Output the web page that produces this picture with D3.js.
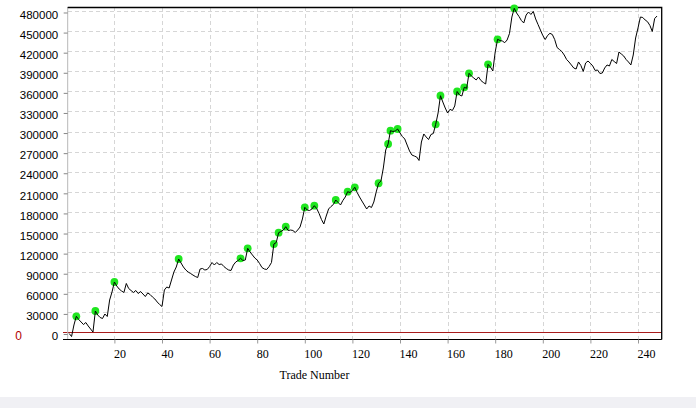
<!DOCTYPE html>
<html><head><meta charset="utf-8">
<script src="https://cdn.jsdelivr.net/npm/d3@7"></script>
<style>body{margin:0;background:#fff;overflow:hidden} svg{display:block}</style>
</head><body>
<svg id="c" width="696" height="408"></svg>
<script>
// Equity after each trade (trade 1 .. 248)
const equity = [
 -1500,-6000,11200,24200,19400,15700,11900,14900,9700,5200,
 700,32100,26100,22400,20900,27600,23900,48500,60500,75400,
 69400,64900,62000,59700,73200,65700,62700,59700,62700,58200,
 61200,57500,53700,59000,56700,53000,50000,45500,41800,38800,
 63500,67900,66400,78400,90300,97800,109700,103800,97800,93300,
 90300,88100,85800,83600,82100,94800,95600,93300,94100,98500,
 104500,100800,104500,101500,102300,98500,95600,93300,92600,100800,
 105300,107500,110800,107500,108200,125700,120200,115700,111200,108200,
 103000,97000,94800,94100,98500,104500,132100,134400,149000,150800,
 153000,158000,152300,153000,152300,149300,153000,157500,169500,186900,
 182900,182100,184400,189300,185100,177700,168700,162000,173900,184400,
 188100,191100,197800,194100,190400,197100,202300,210200,209000,212000,
 216800,209000,202300,196300,190400,184400,188900,186600,194800,209800,
 222800,226200,245600,272500,281400,301300,300100,300800,303800,297900,
 292600,288900,279900,271000,265000,263500,262000,256800,284400,296400,
 291900,288100,295600,297100,310800,327700,353500,344100,335200,327700,
 333200,331400,338200,359800,354600,353100,366100,364600,387000,383000,
 380000,377000,381500,376200,373300,371000,400400,396400,390400,418800,
 437700,436000,435200,432700,436700,446400,471000,484000,477000,471800,
 465800,462100,474000,478500,474800,479300,468100,459800,451600,443400,
 437400,443400,446700,444900,437400,425500,422500,419500,414300,407600,
 403900,399400,394900,393400,403900,398600,389700,402400,405300,401900,
 397900,391200,391900,386700,387400,394900,399400,397900,407600,404600,
 401600,418800,415800,412800,407600,403900,399400,414300,439700,454600,
 471000,470300,466600,464000,458400,449400,468800,472500
];
// Trades marked as new equity highs (green dots)
const newHighTrades = [4,12,20,47,73,76,87,89,92,100,104,113,118,121,131,135,136,139,155,157,164,167,169,177,181,188];
const xTickValues = [20,40,60,80,100,120,140,160,180,200,220,240];
const yTickValues = [0,30000,60000,90000,120000,150000,180000,210000,240000,270000,300000,330000,360000,390000,420000,450000,480000];
const xAxisTitle = "Trade Number";
const zeroMarker = "0";

const svg = d3.select("#c");
const L = 67.7, R = 661.7, T = 7, B = 339.5;
const x = d3.scaleLinear().domain([0, 250]).range([66.8, 661.8]);
const y = d3.scaleLinear().domain([-10450, 485970]).range([B, T]);

// bottom band
svg.append("rect").attr("x",0).attr("y",397).attr("width",696).attr("height",11).attr("fill","#f0f0f4");

// grid
const grid = svg.append("g").attr("stroke","#d6d6d6").attr("stroke-width",1).attr("stroke-dasharray","4,3").attr("shape-rendering","crispEdges");
grid.selectAll("line.h").data(yTickValues.filter(v=>v!==0)).join("line")
  .attr("x1",L).attr("x2",R).attr("y1",d=>Math.round(y(d))+0.5).attr("y2",d=>Math.round(y(d))+0.5);
grid.selectAll("line.v").data(xTickValues).join("line")
  .attr("y1",T).attr("y2",B).attr("x1",d=>Math.round(x(d))+0.5).attr("x2",d=>Math.round(x(d))+0.5);

// zero line
svg.append("line").attr("x1",63).attr("x2",R).attr("y1",y(0)).attr("y2",y(0))
  .attr("stroke","#a81c1c").attr("stroke-width",1.2);

// y axis
const yAxis = d3.axisLeft(y).tickValues(yTickValues).tickSize(4).tickFormat(d3.format("d"));
const gy = svg.append("g").attr("transform",`translate(${L},0)`).call(yAxis);
gy.select(".domain").attr("stroke","#b8b8b8").attr("d",`M0,${T}V${B}`);
gy.selectAll(".tick line").attr("stroke","#888").attr("transform","translate(0,1.5)");
gy.selectAll(".tick text").attr("font-family","Liberation Sans, Arial, sans-serif").attr("font-size","11.5px")
  .attr("fill","#000").attr("x",-9.5).attr("dy","0").attr("y",7.2);

// x axis
const xAxis = d3.axisBottom(x).tickValues(xTickValues).tickSize(4).tickFormat(d3.format("d"));
const gx = svg.append("g").attr("transform",`translate(0,${B})`).call(xAxis);
gx.select(".domain").attr("stroke","#000").attr("d",`M63,0H${R}`);
gx.selectAll(".tick line").attr("stroke","#999");
gx.selectAll(".tick text").attr("font-family","Liberation Serif, Times New Roman, serif").attr("font-size","12px")
  .attr("fill","#000").attr("text-anchor","start").attr("dx","-1").attr("dy","0").attr("y",18);

// border top / right
svg.append("path").attr("d",`M${L},${T+0.5}H${R}V${B}`).attr("fill","none").attr("stroke","#000").attr("stroke-width",1.3);

// axis title
svg.append("text").attr("x",314.5).attr("y",379).attr("text-anchor","middle")
  .attr("font-family","Liberation Serif, Times New Roman, serif").attr("font-size","12px").text(xAxisTitle);

// red zero marker on left
svg.append("text").attr("x",18.5).attr("y",339.5).attr("text-anchor","middle")
  .attr("font-family","Liberation Sans, Arial, sans-serif").attr("font-size","12px").attr("fill","#b00000").text(zeroMarker);

// dots
svg.append("g").selectAll("circle").data(newHighTrades).join("circle")
  .attr("cx",d=>x(d)).attr("cy",d=>y(equity[d-1])).attr("r",3.9).attr("fill","#1fe61f");

// equity line
const line = d3.line().x((d,i)=>x(i+1)).y(d=>y(d));
svg.append("path").datum(equity).attr("d",line).attr("fill","none").attr("stroke","#000").attr("stroke-width",1);
</script>
</body></html>
